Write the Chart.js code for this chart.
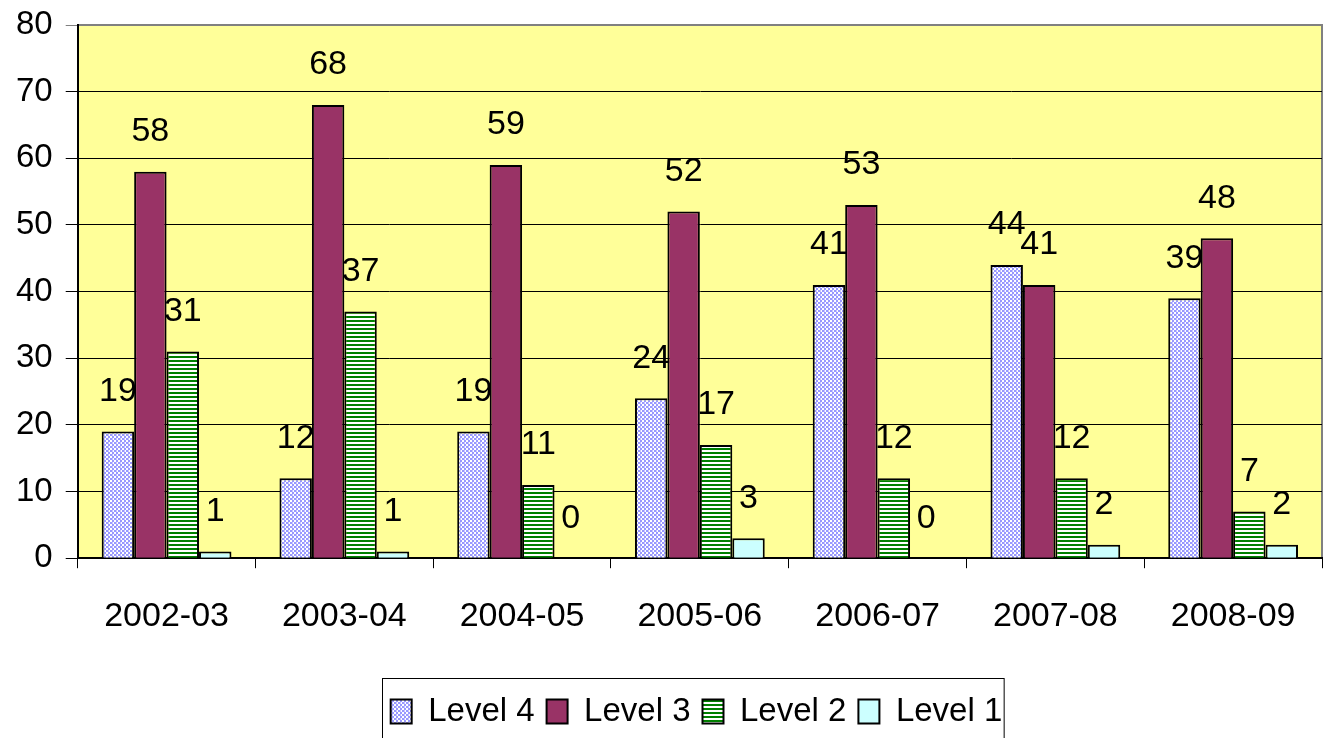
<!DOCTYPE html>
<html>
<head>
<meta charset="utf-8">
<script src="https://cdn.jsdelivr.net/npm/chart.js@4.4.1/dist/chart.umd.min.js"></script>
<style>
  html, body { margin: 0; padding: 0; background: #ffffff; }
  #wrap { width: 1324px; height: 738px; }
</style>
</head>
<body>
<div id="wrap"><canvas id="mycanvas" width="1324" height="738"></canvas></div>
<script>
var years = ["2002-03", "2003-04", "2004-05", "2005-06", "2006-07", "2007-08", "2008-09"];
var level4 = [19, 12, 19, 24, 41, 44, 39];
var level3 = [58, 68, 59, 52, 53, 41, 48];
var level2 = [31, 37, 11, 17, 12, 12, 7];
var level1 = [1, 1, 0, 3, 0, 2, 2];
var yTicks = [0, 10, 20, 30, 40, 50, 60, 70, 80];

var FONT = "'Liberation Sans', Arial, sans-serif";

function makePattern(w, h, draw) {
    var c = document.createElement("canvas");
    c.width = w; c.height = h;
    var g = c.getContext("2d");
    draw(g);
    return document.getElementById("mycanvas").getContext("2d").createPattern(c, "repeat");
}

// light blue checker for Level 4
var dotsFill = makePattern(4, 4, function(g) {
    g.fillStyle = "#ffffff"; g.fillRect(0, 0, 4, 4);
    g.fillStyle = "#9999ff";
    g.fillRect(0, 0, 2, 2);
    g.fillRect(2, 2, 2, 2);
    g.fillStyle = "#c8c8ff";
    g.fillRect(0, 2, 1, 2);
});
// green horizontal stripes for Level 2
var stripeFill = makePattern(4, 4, function(g) {
    g.fillStyle = "#ffffff"; g.fillRect(0, 0, 4, 4);
    g.fillStyle = "#008000"; g.fillRect(0, 0, 4, 2);
});

var plotBg = {
    id: "plotBg",
    beforeDraw: function(chart) {
        var a = chart.chartArea, ctx = chart.ctx;
        ctx.save();
        ctx.fillStyle = "#ffff99";
        ctx.fillRect(a.left, a.top, a.right - a.left, a.bottom - a.top);
        ctx.strokeStyle = "#808080";
        ctx.lineWidth = 2;
        ctx.beginPath();
        ctx.moveTo(a.left, a.top);
        ctx.lineTo(a.right, a.top);
        ctx.lineTo(a.right, a.bottom);
        ctx.stroke();
        ctx.restore();
    }
};

var valueLabels = {
    id: "valueLabels",
    afterDatasetsDraw: function(chart) {
        var ctx = chart.ctx;
        ctx.save();
        ctx.fillStyle = "#000000";
        ctx.font = "34px " + FONT;
        ctx.textAlign = "center";
        ctx.textBaseline = "middle";
        chart.data.datasets.forEach(function(ds, i) {
            chart.getDatasetMeta(i).data.forEach(function(bar, j) {
                ctx.fillText(String(ds.data[j]), bar.x, bar.y - 40);
            });
        });
        ctx.restore();
    }
};

// move the legend a bit right (it sits under the plot area, not the canvas centre)
// and draw the frame round it
var LEGEND_SHIFT = 34;
var legendBox = {
    id: "legendBox",
    afterLayout: function(chart) {
        var l = chart.legend;
        if (!l) return;
        l.left += LEGEND_SHIFT;
        l.right += LEGEND_SHIFT;
        if (l.adjustHitBoxes) l.adjustHitBoxes();
    },
    afterDraw: function(chart) {
        var l = chart.legend, ctx = chart.ctx;
        if (!l || !l.lineWidths) return;
        var w = l.lineWidths[0];
        var x0 = l.left + (l.right - l.left - w) / 2;
        ctx.save();
        ctx.strokeStyle = "#000000";
        ctx.lineWidth = 1;
        ctx.strokeRect(Math.round(x0) - 2.5, 678.5, w - 2, 80);
        ctx.restore();
    }
};

var chartdata = {
    labels: years,
    datasets: [
        { label: "Level 4", data: level4, backgroundColor: dotsFill },
        { label: "Level 3", data: level3, backgroundColor: "#993366" },
        { label: "Level 2", data: level2, backgroundColor: stripeFill },
        { label: "Level 1", data: level1, backgroundColor: "#ccffff" }
    ]
};
chartdata.datasets.forEach(function(ds) {
    ds.borderColor = "#000000";
    ds.borderWidth = 2;
    ds.barPercentage = 1;
    ds.categoryPercentage = 0.73;
});

var ctx = document.getElementById("mycanvas");
var BarGraph = new Chart(ctx, {
    type: "bar",
    data: chartdata,
    plugins: [plotBg, valueLabels, legendBox],
    options: {
        responsive: false,
        animation: false,
        layout: { padding: { left: 3, right: 2, top: 25, bottom: 0 } },
        plugins: {
            tooltip: { enabled: false },
            legend: {
                position: "bottom",
                labels: {
                    font: { family: FONT, size: 33 },
                    color: "#000000",
                    boxWidth: 21,
                    boxHeight: 24,
                    padding: 12
                }
            }
        },
        scales: {
            x: {
                afterFit: function(axis) { axis.height += 18; },
                grid: { drawOnChartArea: false, color: "#000000", tickLength: 10, offset: true },
                border: { color: "#000000", width: 2 },
                ticks: { font: { family: FONT, size: 34 }, color: "#000000", padding: 28, maxRotation: 0 }
            },
            y: {
                min: 0,
                max: 80,
                afterBuildTicks: function(axis) {
                    axis.ticks = yTicks.map(function(v) { return { value: v }; });
                },
                grid: {
                    color: function(c) { return c.tick && c.tick.value === 80 ? "#808080" : "#000000"; },
                    lineWidth: 1,
                    tickLength: 12
                },
                border: { color: "#000000", width: 2 },
                ticks: { font: { family: FONT, size: 33, lineHeight: 0.6 }, color: "#000000", padding: 13 }
            }
        }
    }
});
</script>
</body>
</html>
